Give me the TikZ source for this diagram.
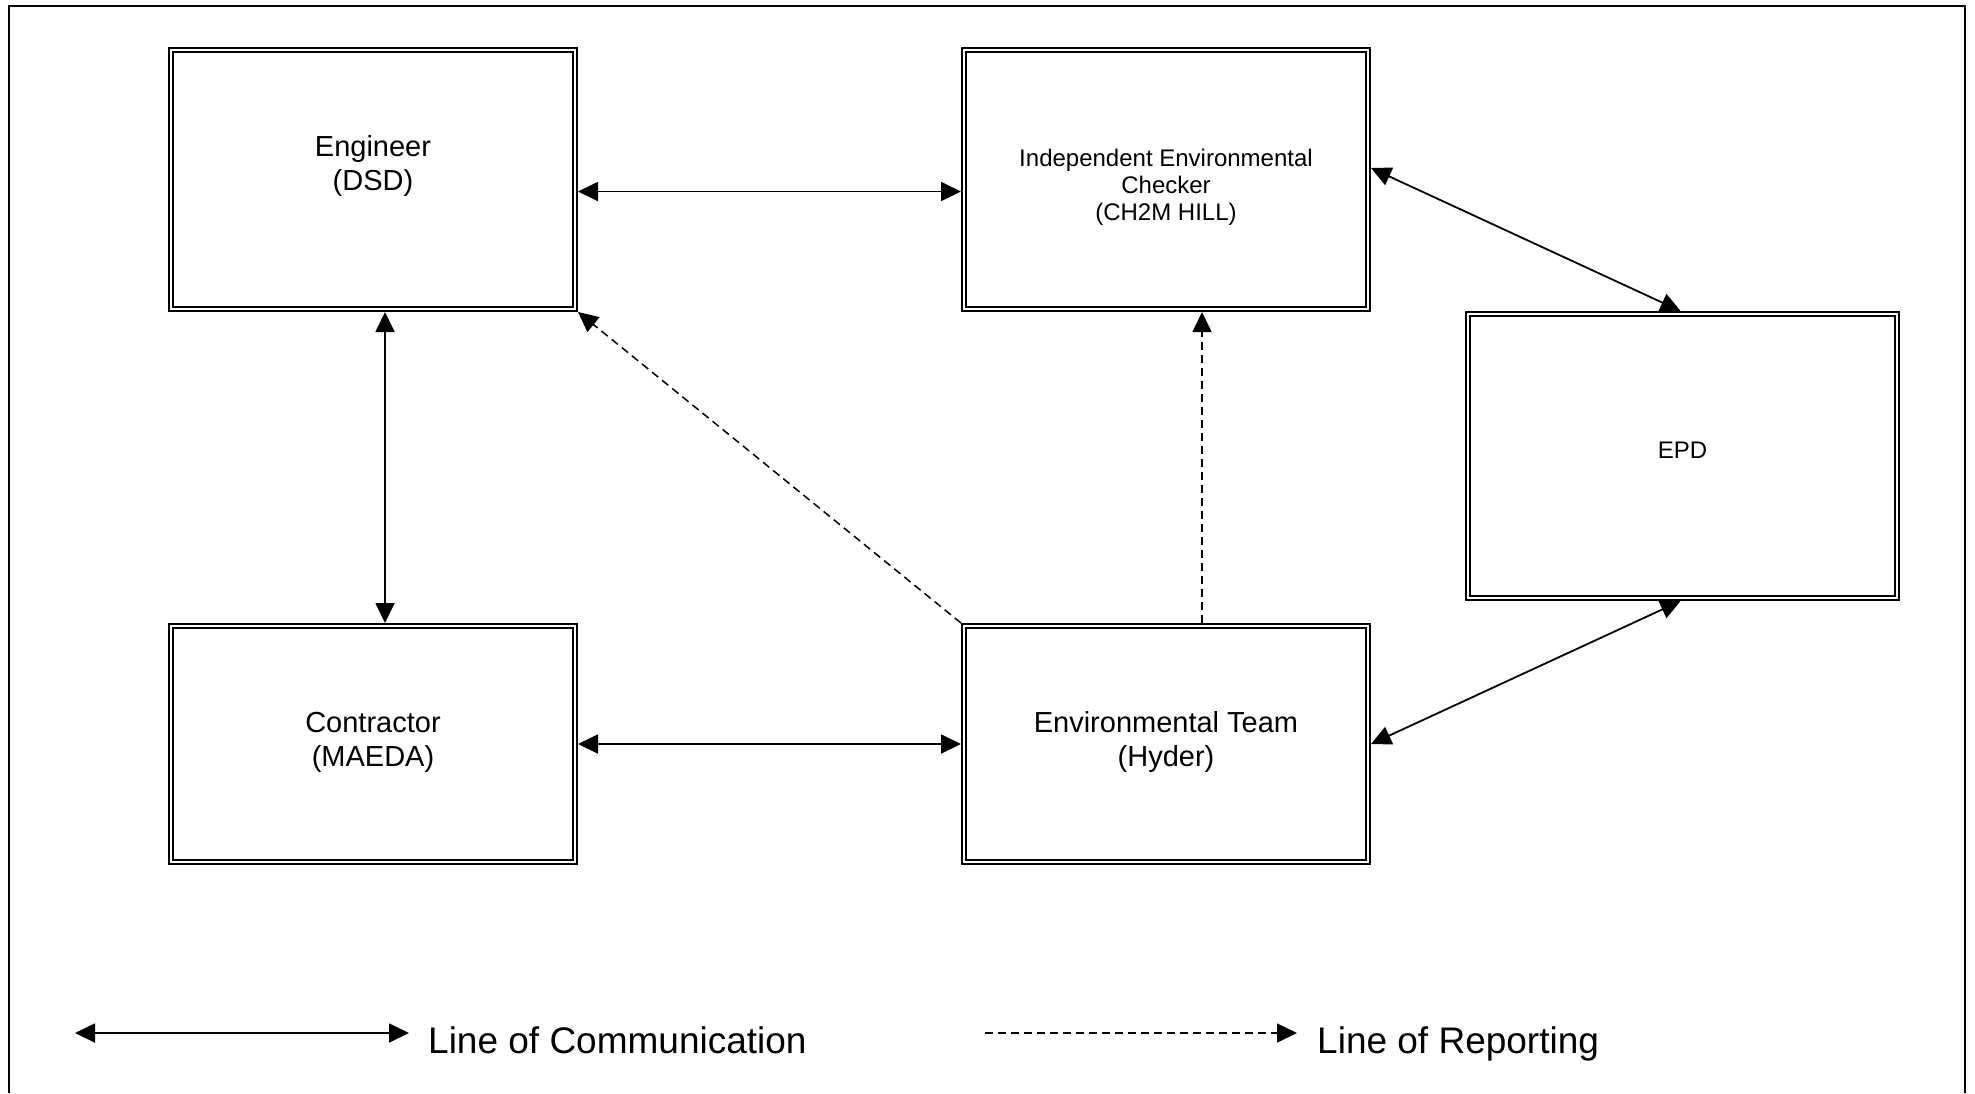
\documentclass[tikz,border=0pt]{standalone}
\usepackage{fontspec}
\setmainfont{Liberation Sans}
\usetikzlibrary{arrows.meta,calc}
\begin{document}
\begin{tikzpicture}[x=1pt,y=-1pt,
  box/.style={draw, double, line width=2.2pt, double distance=1.6pt, inner sep=0pt, outer sep=3pt, align=center},
  bigfont/.style={font=\fontsize{29}{34}\selectfont},
  smallfont/.style={font=\fontsize{24}{27}\selectfont},
  tip/.tip={Triangle[length=20pt,width=19pt]},
  comm/.style={line width=1.8pt, tip-tip},
  rep/.style={line width=1.5pt, dash pattern=on 8pt off 5pt, -tip},
  legend/.style={font=\fontsize{37}{44}\selectfont, anchor=base west, inner sep=0pt}]
\useasboundingbox (0,0) rectangle (1975,1093);
\draw[line width=1.8pt] (9,1093) -- (9,6) -- (1965,6) -- (1965,1093);

\node[box, bigfont, text height=21pt, text depth=0pt, minimum width=404pt, minimum height=259pt] (eng) at (373,179.5) {Engineer\\(DSD)};
\node[box, smallfont, text height=82.4pt, text depth=0pt, minimum width=404pt, minimum height=259pt] (ice) at (1166,179.5) {Independent Environmental\\Checker\\(CH2M HILL)};
\node[box, smallfont, text height=17pt, text depth=13pt, minimum width=429pt, minimum height=284pt] (epd) at (1682.5,456) {EPD};
\node[box, bigfont, text height=44.6pt, text depth=0pt, minimum width=404pt, minimum height=236pt] (con) at (373,744) {Contractor\\(MAEDA)};
\node[box, bigfont, text height=44.6pt, text depth=0pt, minimum width=404pt, minimum height=236pt] (env) at (1166,744) {Environmental Team\\(Hyder)};

\draw[comm] ($(eng.east)+(0,12)$) -- ($(ice.west)+(0,12)$);
\draw[comm] ($(eng.south)+(12,0)$) -- ($(con.north)+(12,0)$);
\draw[comm] (con.east) -- (env.west);
\draw[comm] ($(ice.east)+(0,-11.5)$) -- ($(epd.north)+(-2,0)$);
\draw[comm] (env.east) -- ($(epd.south)+(-2,0)$);
\draw[rep] ($(env.north)+(36,0)$) -- ($(ice.south)+(36,0)$);
\draw[rep] (env.north west) -- (eng.south east);

\coordinate (lc1) at (75,1033);
\coordinate (lc2) at (409,1033);
\coordinate (lr1) at (985,1033);
\coordinate (lr2) at (1297,1033);
\draw[comm] (lc1) -- (lc2);
\draw[rep] (lr1) -- (lr2);
\node[legend] (legc) at (428,1053) {Line of Communication};
\node[legend] (legr) at (1317,1053) {Line of Reporting};
\end{tikzpicture}
\end{document}
